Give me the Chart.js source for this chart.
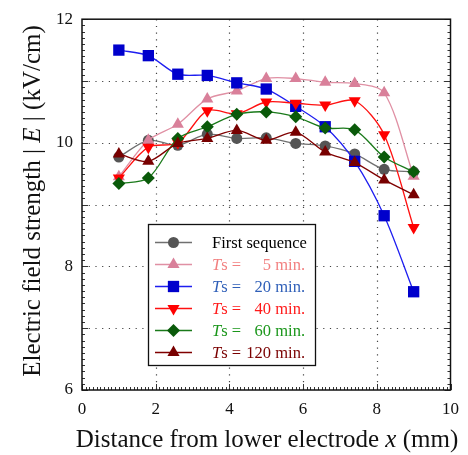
<!DOCTYPE html>
<html><head><meta charset="utf-8">
<script src="https://cdn.jsdelivr.net/npm/chart.js@4/dist/chart.umd.min.js"></script>
<style>html,body{margin:0;padding:0;background:#fff;}#wrap{width:468px;height:455px;}</style>
</head><body><div id="wrap"><canvas id="c" width="468" height="455"></canvas></div>
<script>
const xPositions = [1.0, 1.8, 2.6, 3.4, 4.2, 5.0, 5.8, 6.6, 7.4, 8.2, 9.0];
const firstSeq = [9.77, 10.04, 9.96, 10.14, 10.07, 10.08, 9.99, 9.95, 9.82, 9.57, 9.53];
const ts5 = [9.45, 10.04, 10.30, 10.71, 10.84, 11.04, 11.04, 10.98, 10.96, 10.81, 9.46];
const ts20 = [11.50, 11.41, 11.11, 11.09, 10.97, 10.87, 10.59, 10.26, 9.70, 8.82, 7.59];
const ts40 = [9.43, 9.93, 10.00, 10.52, 10.47, 10.66, 10.64, 10.61, 10.68, 10.13, 8.63];
const ts60 = [9.34, 9.43, 10.07, 10.26, 10.46, 10.50, 10.42, 10.24, 10.21, 9.77, 9.53];
const ts120 = [9.82, 9.70, 9.99, 10.07, 10.20, 10.04, 10.17, 9.85, 9.68, 9.40, 9.16];
const seriesLabels = ['First sequence', '5', '20', '40', '60', '120'];
const xTicks = [0, 2, 4, 6, 8, 10];
const yTicks = [6, 8, 10, 12];

const FONT = '"Liberation Serif", "DejaVu Serif", serif';
const styles = [
  {line:'#707070', fill:'#555555', text:'#000000', shape:'circle', r:5.5, rot:0},
  {line:'#e090a4', fill:'#d9809a', text:'#f28080', shape:'triangle', r:7, rot:0},
  {line:'#1e1ef0', fill:'#0000cc', text:'#2f5fb8', shape:'rect', r:8, rot:0},
  {line:'#ff1010', fill:'#ff0000', text:'#ff1a1a', shape:'triangle', r:7, rot:180},
  {line:'#1a7a1a', fill:'#0a5a0a', text:'#1a961a', shape:'rectRot', r:6.5, rot:0},
  {line:'#800000', fill:'#780000', text:'#7a0000', shape:'triangle', r:7, rot:0}
];
const seriesData = [firstSeq, ts5, ts20, ts40, ts60, ts120];

const datasets = seriesData.map((arr, i) => ({
  label: seriesLabels[i],
  data: arr.map((v, k) => ({x: xPositions[k], y: v})),
  borderColor: styles[i].line,
  backgroundColor: styles[i].fill,
  pointBackgroundColor: styles[i].fill,
  pointBorderColor: styles[i].fill,
  pointBorderWidth: 0,
  pointStyle: styles[i].shape,
  pointRadius: styles[i].r,
  pointRotation: styles[i].rot,
  borderWidth: 1.3,
  tension: 0.3,
  order: 5 - i,
  clip: false
}));

function drawMarker(ctx, shape, x, y, r, rot) {
  ctx.beginPath();
  if (shape === 'circle') {
    ctx.arc(x, y, r, 0, Math.PI * 2);
  } else if (shape === 'rect') {
    const s = Math.SQRT1_2 * r;
    ctx.rect(x - s, y - s, 2 * s, 2 * s);
  } else if (shape === 'rectRot') {
    ctx.moveTo(x - r, y); ctx.lineTo(x, y - r); ctx.lineTo(x + r, y); ctx.lineTo(x, y + r); ctx.closePath();
  } else if (shape === 'triangle') {
    let rad = rot * Math.PI / 180;
    ctx.moveTo(x + Math.sin(rad) * r, y - Math.cos(rad) * r);
    rad += 2 * Math.PI / 3;
    ctx.lineTo(x + Math.sin(rad) * r, y - Math.cos(rad) * r);
    rad += 2 * Math.PI / 3;
    ctx.lineTo(x + Math.sin(rad) * r, y - Math.cos(rad) * r);
    ctx.closePath();
  }
  ctx.fill();
}

const framePlugin = {
  id: 'frame',
  beforeDatasetsDraw(chart) {
    const {ctx, chartArea: a, scales: {x, y}} = chart;
    ctx.save();
    ctx.strokeStyle = '#444';
    ctx.lineWidth = 1.2;
    ctx.setLineDash([1.2, 5.5]);
    for (let v = 7; v <= 11; v++) {
      const py = Math.round(y.getPixelForValue(v)) + 0.5;
      ctx.beginPath(); ctx.moveTo(a.left, py); ctx.lineTo(a.right, py); ctx.stroke();
    }
    for (let v = 2; v <= 8; v += 2) {
      const px = Math.round(x.getPixelForValue(v)) + 0.5;
      ctx.beginPath(); ctx.moveTo(px, a.top); ctx.lineTo(px, a.bottom); ctx.stroke();
    }
    ctx.restore();
  },
  afterDraw(chart) {
    const {ctx, chartArea: a, scales: {x, y}} = chart;
    ctx.save();
    ctx.strokeStyle = '#333';
    ctx.lineWidth = 1;
    for (let k = 60; k <= 120; k++) {
      const v = k / 10;
      const py = Math.round(y.getPixelForValue(v)) + 0.5;
      const len = (k % 10 === 0) ? 6 : 3;
      ctx.beginPath(); ctx.moveTo(a.left, py); ctx.lineTo(a.left + len, py); ctx.stroke();
      ctx.beginPath(); ctx.moveTo(a.right, py); ctx.lineTo(a.right - len, py); ctx.stroke();
    }
    for (let k = 0; k <= 100; k++) {
      const v = k / 10;
      const px = Math.round(x.getPixelForValue(v)) + 0.5;
      const len = (k % 20 === 0) ? 6 : 3;
      ctx.beginPath(); ctx.moveTo(px, a.bottom); ctx.lineTo(px, a.bottom - len); ctx.stroke();
    }
    ctx.strokeStyle = '#111';
    ctx.lineWidth = 1.5;
    ctx.strokeRect(a.left, a.top, a.right - a.left, a.bottom - a.top);

    // axis titles
    ctx.fillStyle = '#111';
    ctx.textBaseline = 'alphabetic';
    const fs = 25;
    const xParts = [['Distance from lower electrode ', ''], ['x', 'italic '], [' (mm)', '']];
    let tw = 0;
    xParts.forEach(p => { ctx.font = p[1] + fs + 'px ' + FONT; tw += ctx.measureText(p[0]).width; });
    let cx = 267 - tw / 2;
    ctx.textAlign = 'left';
    xParts.forEach(p => { ctx.font = p[1] + fs + 'px ' + FONT; ctx.fillText(p[0], cx, 447); cx += ctx.measureText(p[0]).width; });

    const yParts = [['Electric field strength | ', ''], ['E', 'italic '], [' | (kV/cm)', '']];
    tw = 0;
    yParts.forEach(p => { ctx.font = p[1] + fs + 'px ' + FONT; tw += ctx.measureText(p[0]).width; });
    ctx.save();
    ctx.translate(40, 201);
    ctx.rotate(-Math.PI / 2);
    cx = -tw / 2;
    yParts.forEach(p => { ctx.font = p[1] + fs + 'px ' + FONT; ctx.fillText(p[0], cx, 0); cx += ctx.measureText(p[0]).width; });
    ctx.restore();

    // legend
    const L = 148.5, T = 224.5, R = 315.5, B = 365.5;
    ctx.fillStyle = '#fff';
    ctx.fillRect(L, T, R - L, B - T);
    ctx.strokeStyle = '#111';
    ctx.lineWidth = 1.3;
    ctx.strokeRect(L, T, R - L, B - T);
    const rowY = [242.5, 264.5, 286.5, 308.5, 330.5, 352.5];
    const lfs = 16.5;
    seriesLabels.forEach((lab, i) => {
      const st = styles[i];
      const ry = rowY[i];
      ctx.strokeStyle = st.line; ctx.lineWidth = 1.3;
      ctx.beginPath(); ctx.moveTo(155, ry); ctx.lineTo(192, ry); ctx.stroke();
      ctx.fillStyle = st.fill;
      drawMarker(ctx, st.shape, 173.5, ry, st.r, st.rot);
      ctx.fillStyle = st.text;
      ctx.textBaseline = 'middle';
      if (i === 0) {
        ctx.font = lfs + 'px ' + FONT; ctx.textAlign = 'left';
        ctx.fillText(lab, 212, ry + 1);
      } else {
        ctx.textAlign = 'left';
        ctx.font = 'italic ' + lfs + 'px ' + FONT;
        ctx.fillText('T', 212, ry + 1);
        const tW = ctx.measureText('T').width;
        ctx.font = lfs + 'px ' + FONT;
        ctx.fillText('s =', 212 + tW, ry + 1);
        ctx.textAlign = 'right';
        ctx.fillText('min.', 305, ry + 1);
        const mW = ctx.measureText(' min.').width;
        ctx.fillText(lab, 305 - mW, ry + 1);
      }
    });
    ctx.restore();
  }
};

new Chart(document.getElementById('c'), {
  type: 'line',
  data: {datasets},
  options: {
    responsive: false,
    animation: false,
    devicePixelRatio: 1,
    layout: {padding: {top: 18, right: 11, left: 0, bottom: 0}},
    plugins: {legend: {display: false}, tooltip: {enabled: false}},
    scales: {
      x: {
        type: 'linear', min: 0, max: 10,
        afterFit(s) { s.height = 65; },
        afterBuildTicks(s) { s.ticks = xTicks.map(v => ({value: v})); },
        grid: {display: false, drawTicks: false},
        border: {display: false},
        ticks: {color: '#111', padding: 9, font: {family: FONT, size: 17}, maxRotation: 0}
      },
      y: {
        type: 'linear', min: 6, max: 12,
        afterFit(s) { s.width = 82; },
        afterBuildTicks(s) { s.ticks = yTicks.map(v => ({value: v})); },
        grid: {display: false, drawTicks: false},
        border: {display: false},
        ticks: {color: '#111', padding: 9, font: {family: FONT, size: 17}}
      }
    }
  },
  plugins: [framePlugin]
});
</script></body></html>
